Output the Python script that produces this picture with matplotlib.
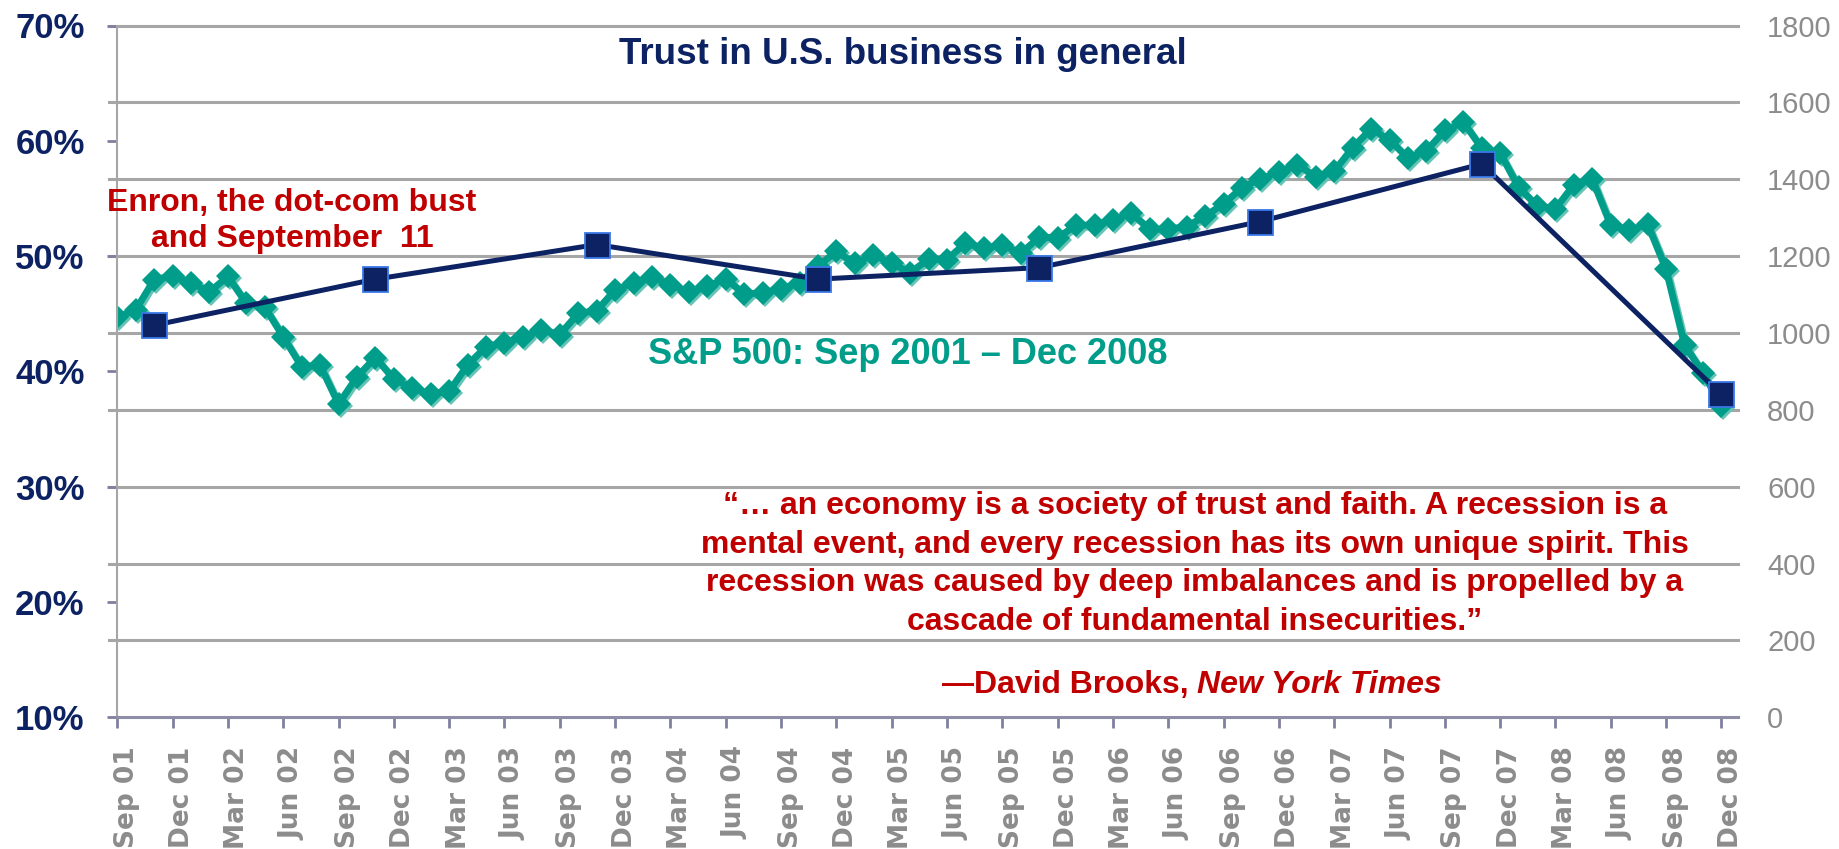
import matplotlib
matplotlib.use('Agg')
import matplotlib.pyplot as plt
from matplotlib.transforms import ScaledTranslation

# S&P 500 monthly, Sep 2001 .. Dec 2008 (index 0..87)
sp500 = [1041, 1060, 1139, 1148,
         1130, 1107, 1147, 1077, 1067, 990, 912, 916, 815, 886, 936, 880,
         856, 841, 848, 917, 964, 975, 990, 1008, 996, 1051, 1058, 1112,
         1131, 1145, 1126, 1107, 1121, 1141, 1102, 1104, 1115, 1130, 1174, 1212,
         1181, 1204, 1181, 1157, 1192, 1191, 1234, 1220, 1229, 1207, 1249, 1248,
         1280, 1281, 1295, 1311, 1270, 1270, 1277, 1304, 1336, 1378, 1401, 1418,
         1438, 1407, 1421, 1482, 1531, 1503, 1455, 1474, 1527, 1549, 1481, 1468,
         1379, 1331, 1323, 1386, 1400, 1280, 1267, 1283, 1166, 969, 896, 810]

# trust in business (%), month index of each survey point
trust_month = [2, 14, 26, 38, 50, 62, 74, 87]
trust_pct = [44, 48, 51, 48, 49, 53, 58, 38]

tick_labels = ['Sep 01', 'Dec 01', 'Mar 02', 'Jun 02', 'Sep 02', 'Dec 02',
               'Mar 03', 'Jun 03', 'Sep 03', 'Dec 03', 'Mar 04', 'Jun 04',
               'Sep 04', 'Dec 04', 'Mar 05', 'Jun 05', 'Sep 05', 'Dec 05',
               'Mar 06', 'Jun 06', 'Sep 06', 'Dec 06', 'Mar 07', 'Jun 07',
               'Sep 07', 'Dec 07', 'Mar 08', 'Jun 08', 'Sep 08', 'Dec 08']
left_ticks = [10, 20, 30, 40, 50, 60, 70]
right_ticks = [0, 200, 400, 600, 800, 1000, 1200, 1400, 1600, 1800]

NAVY = '#0c2262'
TEAL = '#009e8a'
RED = '#c00000'
GREY = '#8c8c8c'
W, H = 1839, 849

plt.rcParams['font.family'] = ['Liberation Sans', 'DejaVu Sans']

fig = plt.figure(figsize=(W / 100, H / 100), dpi=100)
ax = fig.add_axes([117.3 / W, 1 - 717.3 / H, (1738 - 117.3) / W, (717.3 - 25.5) / H])
ax2 = ax.twinx()
ax.set_zorder(2)
ax2.set_zorder(1)
ax.patch.set_visible(False)

months = list(range(len(sp500)))

# right axis: S&P 500 with gridlines
for v in right_ticks[1:]:
    ax2.axhline(v, xmin=-0.005, xmax=1, color='#a6a6a6', lw=2.2, clip_on=False, zorder=0)
shadow = ax2.transData + ScaledTranslation(0.02, -0.02, fig.dpi_scale_trans)
ax2.plot(months, sp500, color='#66c4b6', lw=5, marker='D', markersize=12.5,
         markeredgewidth=0, transform=shadow, zorder=2)
ax2.plot(months, sp500, color=TEAL, lw=5, marker='D', markersize=12.5,
         markeredgewidth=0, zorder=3)
ax2.set_ylim(0, 1800)
ax2.set_yticks(right_ticks)
ax2.tick_params(axis='y', length=0, pad=21, labelsize=21, labelcolor=GREY)
for s in ax2.spines.values():
    s.set_visible(False)

# left axis: trust
ax.plot(trust_month, trust_pct, color=NAVY, lw=3.6, marker='s', markersize=18,
        markerfacecolor=NAVY, markeredgecolor='#3a78e8', markeredgewidth=1.3, zorder=5)
ax.set_ylim(10, 70)
ax.set_yticks(left_ticks)
ax.set_yticklabels([f'{v}%' for v in left_ticks])
ax.tick_params(axis='y', length=7.5, width=2, color='#7f7f9f', pad=16,
               labelsize=25, labelcolor=NAVY)
for lab in ax.get_yticklabels():
    lab.set_fontweight('bold')

ax.set_xlim(0, 87.9)
ax.set_xticks(months[::3])
ax.set_xticklabels(tick_labels, rotation=90, fontsize=19, fontweight='bold',
                   color=GREY, family='DejaVu Sans')
ax.tick_params(axis='x', length=8, width=2, color='#8080a0', pad=13)
offset = ScaledTranslation(0.095, 0, fig.dpi_scale_trans)
for lab in ax.get_xticklabels():
    lab.set_transform(lab.get_transform() + offset)

ax.spines['top'].set_visible(False)
ax.spines['right'].set_visible(False)
ax.spines['left'].set_color('#a6a6a6')
ax.spines['left'].set_linewidth(1.5)
ax.spines['bottom'].set_color('#8e8ea8')
ax.spines['bottom'].set_linewidth(2.2)

# annotations
fig.text(903 / W, 1 - 55 / H, 'Trust in U.S. business in general', ha='center', va='center',
         fontsize=26.5, fontweight='bold', color=NAVY)
fig.text(292 / W, 1 - 221 / H, 'Enron, the dot-com bust\nand September  11', ha='center',
         va='center', fontsize=23, fontweight='bold', color=RED, linespacing=1.27)
fig.text(908 / W, 1 - 354 / H, 'S&P 500: Sep 2001 \u2013 Dec 2008', ha='center', va='center',
         fontsize=26, fontweight='bold', color=TEAL)
quote = ('\u201c\u2026 an economy is a society of trust and faith. A recession is a\n'
         'mental event, and every recession has its own unique spirit. This\n'
         'recession was caused by deep imbalances and is propelled by a\n'
         'cascade of fundamental insecurities.\u201d')
fig.text(1195 / W, 1 - 564 / H, quote, ha='center', va='center', fontsize=23,
         fontweight='bold', color=RED, linespacing=1.38)
fig.text(1197 / W, 1 - 685 / H, '\u2014David Brooks, ', ha='right', va='center',
         fontsize=23, fontweight='bold', color=RED)
fig.text(1197 / W, 1 - 685 / H, 'New York Times', ha='left', va='center',
         fontsize=23, fontweight='bold', style='italic', color=RED)

fig.savefig('out.png', dpi=100)
